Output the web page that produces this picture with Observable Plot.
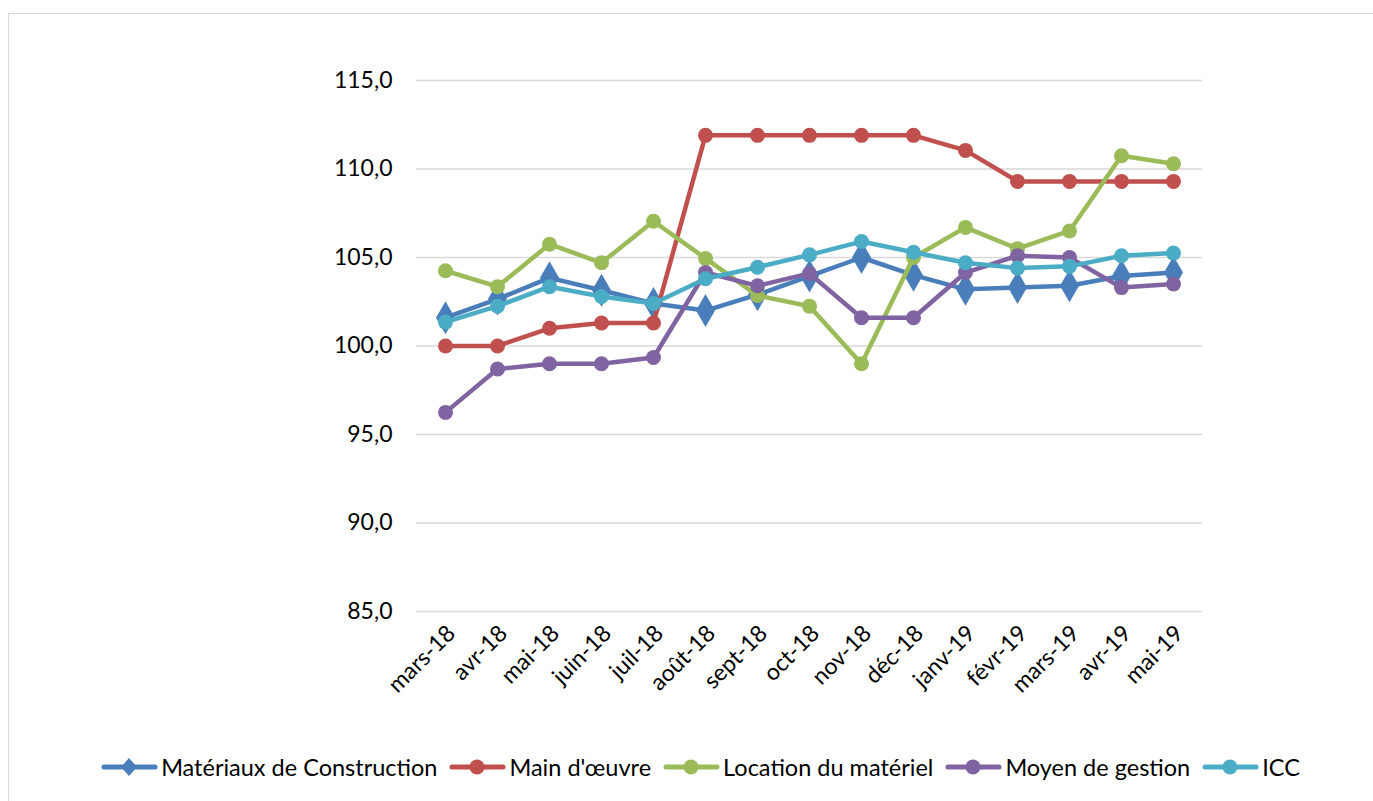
<!DOCTYPE html>
<html>
<head>
<meta charset="utf-8">
<script src="https://cdn.jsdelivr.net/npm/d3@7"></script>
<script src="https://cdn.jsdelivr.net/npm/@observablehq/plot@0.6"></script>
<style>
  html, body { margin: 0; padding: 0; background: #fff; }
  #frame { position: relative; width: 1373px; height: 801px; overflow: hidden; }
  #border { position: absolute; left: 8px; top: 13px; width: 1380px; height: 800px; border: 1.5px solid #d9d9d9; box-sizing: border-box; pointer-events: none; }
  #chart svg { display: block; }
  #legend { display: flex; justify-content: center; align-items: center; height: 44px; padding-left: 28px;
            font-family: Lato, "Open Sans", sans-serif; font-size: 23.5px; color: #000; }
  .item { display: flex; align-items: center; margin: 0 6px; }
  .item svg { margin-right: 3px; }
</style>
</head>
<body>
<div id="frame">
  <div id="border"></div>
  <div id="chart"></div>
  <div id="legend"></div>
</div>
<script>
const months = ["mars-18","avr-18","mai-18","juin-18","juil-18","août-18","sept-18","oct-18","nov-18","déc-18","janv-19","févr-19","mars-19","avr-19","mai-19"];
const seriesNames = ["Matériaux de Construction","Main d'œuvre","Location du matériel","Moyen de gestion","ICC"];
const materiaux = [101.6,102.65,103.85,103.15,102.4,102.0,102.9,103.95,105.0,104.0,103.2,103.3,103.4,103.95,104.15];
const mainOeuvre = [100.0,100.0,101.0,101.3,101.3,111.9,111.9,111.9,111.9,111.9,111.05,109.3,109.3,109.3,109.3];
const locationMateriel = [104.25,103.35,105.75,104.7,107.05,104.95,102.85,102.25,99.0,105.0,106.7,105.5,106.5,110.75,110.3];
const moyenGestion = [96.25,98.7,99.0,99.0,99.35,104.15,103.4,104.1,101.6,101.6,104.15,105.1,105.0,103.3,103.5];
const icc = [101.35,102.25,103.35,102.8,102.4,103.8,104.45,105.15,105.9,105.3,104.7,104.4,104.5,105.1,105.25];
const colors = ["#4a7ebb","#c0504d","#9bbb59","#8064a2","#4bacc6"];
const symbols = ["diamond","circle","circle","circle","circle"];
const yTicks = [85,90,95,100,105,110,115];

const seriesValues = [materiaux, mainOeuvre, locationMateriel, moyenGestion, icc];
const series = seriesNames.map((name, i) => months.map((m, j) => ({month: m, value: seriesValues[i][j], name})));

const marks = [
  Plot.ruleY(yTicks, {stroke: "#d9d9d9", strokeWidth: 1.5}),
  Plot.axisY({ticks: yTicks, tickSize: 0, tickPadding: 24, tickFormat: d => d.toFixed(1).replace(".", ","),
              fontSize: 23, fill: "#000", label: null}),
  Plot.axisX({tickSize: 0, tickRotate: -45, fontSize: 23, fill: "#000", label: null, tickPadding: 6, dx: 6, dy: 12})
];
series.forEach((s, i) => {
  marks.push(Plot.line(s, {x: "month", y: "value", stroke: colors[i], strokeWidth: 4.5, strokeLinejoin: "round", strokeLinecap: "round"}));
  marks.push(Plot.dot(s, {x: "month", y: "value", fill: colors[i], stroke: "none", symbol: symbols[i], r: i === 0 ? 10 : 7.5}));
});

const chart = Plot.plot({
  width: 1373,
  height: 745,
  marginLeft: 416,
  marginRight: 171,
  marginTop: 80,
  marginBottom: 134,
  style: {fontFamily: "Lato, 'Open Sans', sans-serif", background: "transparent", color: "#000"},
  x: {type: "point", domain: months, padding: 0.5},
  y: {domain: [85, 115]},
  marks
});
document.getElementById("chart").appendChild(chart);

const legend = document.getElementById("legend");
seriesNames.forEach((name, i) => {
  const item = document.createElement("div");
  item.className = "item";
  const marker = symbols[i] === "diamond"
    ? `<path d="M28,2 L36,11 L28,20 L20,11 Z" fill="${colors[i]}"/>`
    : `<circle cx="28" cy="11" r="7.5" fill="${colors[i]}"/>`;
  item.innerHTML = `<svg width="57" height="22"><line x1="3" y1="11" x2="54" y2="11" stroke="${colors[i]}" stroke-width="5" stroke-linecap="round"/>${marker}</svg><span>${name}</span>`;
  legend.appendChild(item);
});
</script>
</body>
</html>
